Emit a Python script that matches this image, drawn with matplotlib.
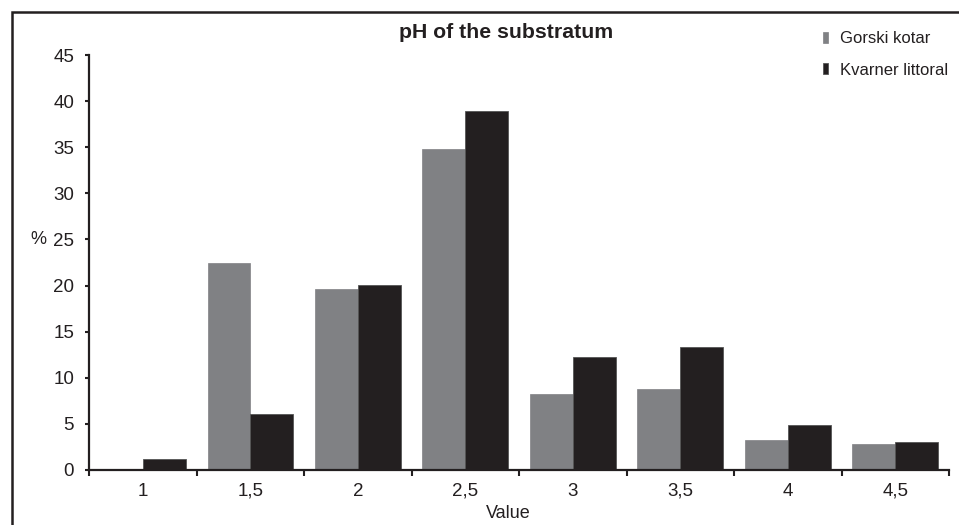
import matplotlib.pyplot as plt
from matplotlib.patches import Rectangle
import numpy as np

plt.rcParams['font.family'] = ['Liberation Sans', 'DejaVu Sans']

# data
categories = ['1', '1,5', '2', '2,5', '3', '3,5', '4', '4,5']
gorski = [0, 22.4, 19.6, 34.8, 8.2, 8.8, 3.3, 2.8]
kvarner = [1.2, 6.1, 20.1, 38.9, 12.2, 13.3, 4.9, 3.0]

dark = '#231f20'
grey = '#808184'

fig = plt.figure(figsize=(9.59, 5.25), dpi=100)
ax = fig.add_axes([89.3 / 959, 1 - 470 / 525, (949 - 89.3) / 959, 415 / 525])

# outer frame (runs off the right and bottom edges like the original)
fig.patches.append(Rectangle((12 / 959, -0.1), 1.2, 1 - 12 / 525 + 0.1,
                             transform=fig.transFigure, fill=False,
                             edgecolor=dark, linewidth=1.8))

centers = np.arange(len(categories)) + 0.5
w = 0.4
ax.bar(centers - w / 2, gorski, w, color=grey, edgecolor=grey, linewidth=0.5,
       label='Gorski kotar')
ax.bar(centers + w / 2, kvarner, w, color=dark, edgecolor='#555555', linewidth=0.6,
       label='Kvarner littoral')

ax.set_xlim(0, 8)
ax.set_ylim(0, 45)
ax.set_yticks(range(0, 46, 5))

# boundary ticks without labels, category labels at the centres
ax.set_xticks(range(0, 9))
ax.set_xticklabels([])
ax.set_xticks(centers, minor=True)
ax.set_xticklabels(categories, minor=True)
ax.tick_params(axis='x', which='major', direction='out', length=4, width=1.5,
               color=dark)
ax.tick_params(axis='x', which='minor', length=0, pad=9, labelsize=13.5,
               labelcolor=dark)
ax.tick_params(axis='y', direction='out', length=3, width=1.5, color=dark,
               pad=8, labelsize=13.5, labelcolor=dark)

for s in ['top', 'right']:
    ax.spines[s].set_visible(False)
for s in ['left', 'bottom']:
    ax.spines[s].set_linewidth(1.6)
    ax.spines[s].set_color(dark)

fig.text(506 / 959, 1 - 33 / 525, 'pH of the substratum', ha='center',
         va='center', fontsize=15.3, fontweight='bold', color=dark)
fig.text(38 / 959, 1 - 240 / 525, '%', ha='center', va='center', fontsize=13,
         color=dark)
fig.text(508 / 959, 1 - 513 / 525, 'Value', ha='center', va='center',
         fontsize=13, color=dark)

leg = ax.legend(loc='upper left', bbox_to_anchor=(823 / 959, 1 - 31 / 525),
                bbox_transform=fig.transFigure, frameon=False, fontsize=12,
                handlelength=0.32, handleheight=0.65, handletextpad=0.7,
                labelspacing=1.0, borderpad=0, borderaxespad=0)
for t in leg.get_texts():
    t.set_color(dark)

fig.savefig('out.png', dpi=100)
